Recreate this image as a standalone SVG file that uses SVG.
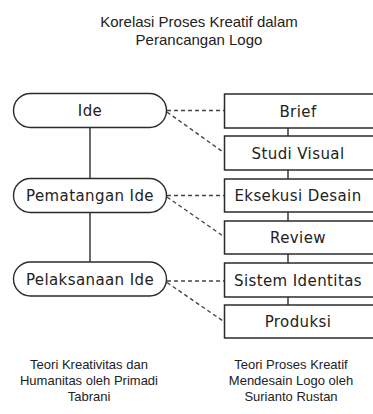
<svg xmlns="http://www.w3.org/2000/svg" width="373" height="414" viewBox="0 0 373 414">
<style>
.pill{fill:#fff;stroke:#2b2b2b;stroke-width:1.4}
.box{fill:#fff;stroke:#2b2b2b;stroke-width:1.5}
.lbl{font-family:"DejaVu Sans",sans-serif;font-size:15px;letter-spacing:0.4px;fill:#222;text-anchor:middle}
.cap{font-family:"Liberation Sans",Arial,sans-serif;fill:#222;text-anchor:middle}
.solid{stroke:#2b2b2b;stroke-width:1.4;fill:none}
.dash{stroke:#444;stroke-width:1.4;stroke-dasharray:4 3;fill:none}
</style>
<rect width="373" height="414" fill="#fff"/>
<g id="title">
<text class="cap" font-size="15" x="199" y="27">Korelasi Proses Kreatif dalam</text>
<text class="cap" font-size="15" x="199" y="45">Perancangan Logo</text>
</g>
<g id="connectors">
<line class="solid" x1="90" y1="127.5" x2="90" y2="179"/>
<line class="solid" x1="90" y1="212" x2="90" y2="262"/>
<line class="solid" x1="288" y1="128" x2="288" y2="136"/>
<line class="solid" x1="288" y1="170" x2="288" y2="179"/>
<line class="solid" x1="288" y1="212" x2="288" y2="221"/>
<line class="solid" x1="288" y1="254" x2="288" y2="263"/>
<line class="solid" x1="288" y1="297" x2="288" y2="305"/>
<line class="dash" x1="167" y1="110.5" x2="224.5" y2="110.5"/>
<line class="dash" x1="167" y1="112" x2="224.5" y2="153"/>
<line class="dash" x1="167" y1="195.5" x2="224.5" y2="195.5"/>
<line class="dash" x1="167" y1="197" x2="224.5" y2="237"/>
<line class="dash" x1="167" y1="281" x2="224.5" y2="281"/>
<line class="dash" x1="167" y1="282.5" x2="224.5" y2="322"/>
</g>
<g id="ide"><rect class="pill" x="13.5" y="93.5" width="153" height="34" rx="17"/><text class="lbl" x="90" y="116">Ide</text></g>
<g id="pematangan"><rect class="pill" x="13.5" y="178.5" width="153" height="34" rx="17"/><text class="lbl" x="90" y="201">Pematangan Ide</text></g>
<g id="pelaksanaan"><rect class="pill" x="13.5" y="262" width="153" height="34" rx="17"/><text class="lbl" x="90" y="284.5">Pelaksanaan Ide</text></g>
<g id="brief"><rect class="box" x="224.5" y="94" width="150" height="34"/><text class="lbl" x="298" y="116.5">Brief</text></g>
<g id="studi"><rect class="box" x="224.5" y="136" width="150" height="34"/><text class="lbl" x="298" y="158.5">Studi Visual</text></g>
<g id="eksekusi"><rect class="box" x="224.5" y="179" width="150" height="33"/><text class="lbl" x="298" y="201">Eksekusi Desain</text></g>
<g id="review"><rect class="box" x="224.5" y="221" width="150" height="33"/><text class="lbl" x="298" y="243">Review</text></g>
<g id="sistem"><rect class="box" x="224.5" y="263" width="150" height="34"/><text class="lbl" x="298" y="285.5">Sistem Identitas</text></g>
<g id="produksi"><rect class="box" x="224.5" y="305" width="150" height="33"/><text class="lbl" x="298" y="327">Produksi</text></g>
<g id="caption-left">
<text class="cap" font-size="13" x="89" y="369">Teori Kreativitas dan</text>
<text class="cap" font-size="13" x="89" y="385">Humanitas oleh Primadi</text>
<text class="cap" font-size="13" x="89" y="401">Tabrani</text>
</g>
<g id="caption-right">
<text class="cap" font-size="13" x="291" y="369">Teori Proses Kreatif</text>
<text class="cap" font-size="13" x="291" y="385">Mendesain Logo oleh</text>
<text class="cap" font-size="13" x="291" y="401">Surianto Rustan</text>
</g>
</svg>
